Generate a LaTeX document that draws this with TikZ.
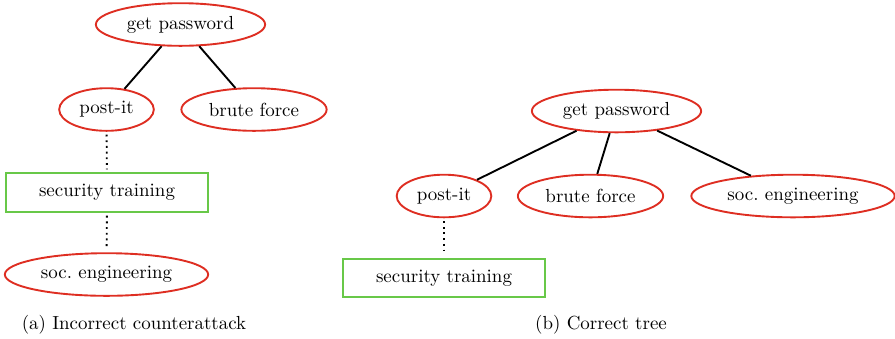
\documentclass[tikz,border=0pt]{standalone}
\usetikzlibrary{shapes.geometric}
\definecolor{atkred}{RGB}{222,46,34}
\definecolor{defgreen}{RGB}{104,200,72}
\tikzset{
  attack/.style={draw=atkred,ellipse,line width=1pt,minimum height=22.5pt},
  defense/.style={draw=defgreen,rectangle,line width=1pt,minimum width=107pt,minimum height=20.5pt},
  refine/.style={line width=1pt},
  counter/.style={line width=1pt,dotted,shorten <=1.5pt,shorten >=1.5pt}
}
\begin{document}
\begin{tikzpicture}[x=0.528pt,y=-0.528pt]
\useasboundingbox (0,0) rectangle (895,338);
% (a) incorrect counterattack
\node[attack] (gpa) at (180.5,24.5) {get password};
\node[attack] (pia) at (106.5,109.5) {post-it};
\node[attack] (bfa) at (254,109.5) {brute force};
\node[defense] (sta) at (107,192.5) {security training};
\node[attack] (sea) at (106.5,274.5) {soc.\ engineering};
\draw[refine] (gpa)--(pia);
\draw[refine] (gpa)--(bfa);
\draw[counter] (pia)--(sta);
\draw[counter] (sta)--(sea);
\node (capa) at (134,325) {(a) Incorrect counterattack};
% (b) correct tree
\node[attack] (gpb) at (616.5,111) {get password};
\node[attack] (pib) at (444,196) {post-it};
\node[attack] (bfb) at (590.5,196) {brute force};
\node[attack] (seb) at (793,196) {soc.\ engineering};
\node[defense] (stb) at (444,278) {security training};
\draw[refine] (gpb)--(pib);
\draw[refine] (gpb)--(bfb);
\draw[refine] (gpb)--(seb);
\draw[counter] (pib)--(stb);
\node (capb) at (601,325) {(b) Correct tree};
\end{tikzpicture}
\end{document}
